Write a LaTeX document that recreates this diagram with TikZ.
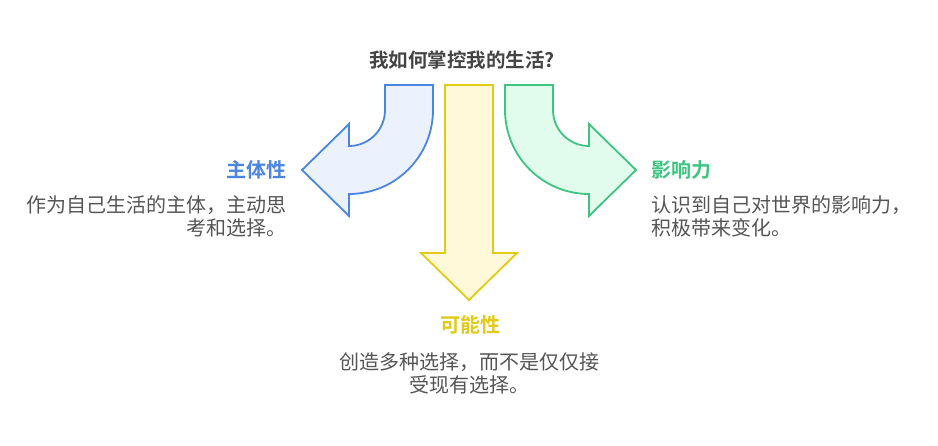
\documentclass[tikz,border=0pt]{standalone}
\usepackage{fontspec}
\newfontfamily\cjk{Noto Sans CJK SC}
\newfontfamily\cjkb{Noto Sans CJK SC Bold}
\definecolor{bluestroke}{HTML}{4A86E0}
\definecolor{bluefill}{HTML}{EBF2FE}
\definecolor{yellowstroke}{HTML}{E2CB16}
\definecolor{yellowfill}{HTML}{FFF9DA}
\definecolor{greenstroke}{HTML}{3DC480}
\definecolor{greenfill}{HTML}{E1FCEC}
\definecolor{bodytext}{HTML}{555555}
\definecolor{titletext}{HTML}{444444}
\tikzset{
  arrowshape/.style={line width=1.8pt, line join=miter},
  heading/.style={inner sep=0pt, font=\cjkb\fontsize{20}{24}\selectfont},
  desc/.style={inner sep=0pt, text=bodytext, font=\cjk\fontsize{20}{23.5}\selectfont},
}
\begin{document}
\begin{tikzpicture}[x=1pt,y=1pt]
\useasboundingbox (0,0) rectangle (938,446);
\fill[white] (0,0) rectangle (938,446);

% title
\node[inner sep=0pt, text=titletext, font=\cjkb\fontsize{19.5}{23}\selectfont] (title) at (462,386) {我如何掌控我的生活?};

% left curved arrow
\draw[arrowshape, draw=bluestroke, fill=bluefill]
  (385,361) -- (433,361) -- (433,336) arc[start angle=0, end angle=-90, radius=84]
  -- (349,230) -- (302,276) -- (349,322) -- (349,300)
  arc[start angle=-90, end angle=0, radius=36] -- cycle;

% straight arrow down
\draw[arrowshape, draw=yellowstroke, fill=yellowfill]
  (445,361) -- (493,361) -- (493,193) -- (517,193) -- (469,146)
  -- (421,193) -- (445,193) -- cycle;

% right curved arrow
\draw[arrowshape, draw=greenstroke, fill=greenfill]
  (505,361) -- (553,361) -- (553,336) arc[start angle=180, end angle=270, radius=36]
  -- (589,322) -- (636,276) -- (589,230) -- (589,252)
  arc[start angle=270, end angle=180, radius=84] -- cycle;

% left label
\node[heading, text=bluestroke, anchor=east] (agency) at (287,276) {主体性};
\node[desc, anchor=east, align=right] (agencytext) at (287,229.5) {作为自己生活的主体，主动思\\考和选择。};

% right label
\node[heading, text=greenstroke, anchor=west] (impact) at (651,276) {影响力};
\node[desc, anchor=west, align=left] (impacttext) at (651,229.5) {认识到自己对世界的影响力，\\积极带来变化。};

% bottom label
\node[heading, text=yellowstroke, anchor=center] (possibility) at (470,121) {可能性};
\node[desc, anchor=center, align=center] (possibilitytext) at (469,72.5) {创造多种选择，而不是仅仅接\\受现有选择。};
\end{tikzpicture}
\end{document}
